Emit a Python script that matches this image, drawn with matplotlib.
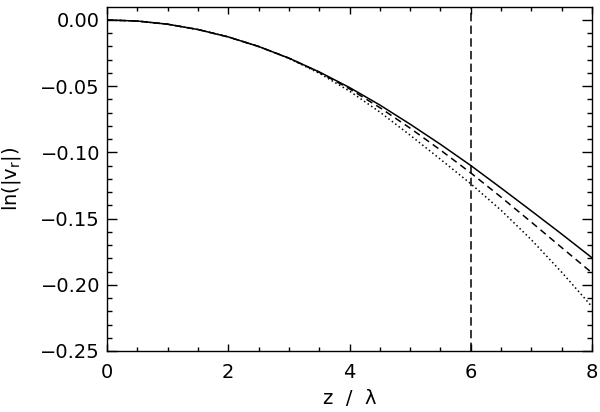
import matplotlib
matplotlib.use("Agg")
import matplotlib.pyplot as plt
from matplotlib.ticker import MultipleLocator, FuncFormatter

# values
z = [0.0, 0.5, 1.0, 1.5, 2.0, 2.5, 3.0, 3.5, 4.0, 4.5, 5.0, 5.5, 6.0, 6.5, 7.0, 7.5, 8.0]
ln_v_solid = [0.0, -0.0008, -0.0032, -0.0072, -0.0128, -0.0200, -0.0288, -0.0392,
              -0.0510, -0.0642, -0.0787, -0.0939, -0.1099, -0.1269, -0.1442, -0.1617, -0.1796]
ln_v_dashed = [0.0, -0.0008, -0.0032, -0.0072, -0.0128, -0.0200, -0.0288, -0.0395,
               -0.0520, -0.0662, -0.0817, -0.0982, -0.1155, -0.1338, -0.1527, -0.1719, -0.1910]
ln_v_dotted = [0.0, -0.0008, -0.0032, -0.0072, -0.0128, -0.0200, -0.0290, -0.0402,
               -0.0537, -0.0695, -0.0870, -0.1052, -0.1237, -0.1437, -0.1660, -0.1905, -0.2165]
z_mark = 6.0

plt.rcParams["font.family"] = ["DejaVu Sans"]

fig = plt.figure(figsize=(6.0, 4.12), dpi=100)
ax = fig.add_axes([107 / 600, 1 - 351 / 412, 485 / 600, 344 / 412])

ax.plot(z, ln_v_solid, color="black", lw=1.1, ls="-")
ax.plot(z, ln_v_dashed, color="black", lw=1.1, ls=(0, (4.5, 3)))
ax.plot(z, ln_v_dotted, color="black", lw=1.1, ls=(0, (1, 1.8)))
ax.axvline(z_mark, color="black", lw=1.1, ls=(0, (5.5, 2.8)))

ax.set_xlim(0, 8)
ax.set_ylim(-0.25, 0.0098)
ax.xaxis.set_major_locator(MultipleLocator(2))
ax.xaxis.set_minor_locator(MultipleLocator(0.5))
ax.yaxis.set_major_locator(MultipleLocator(0.05))
ax.yaxis.set_minor_locator(MultipleLocator(0.01))
ax.yaxis.set_major_formatter(FuncFormatter(lambda v, p: f"{v:.2f}".replace("-", "\u2212")))

ax.tick_params(axis="both", which="both", direction="in", top=True, right=True,
               labelsize=14, width=1)
ax.tick_params(axis="x", which="major", length=5, pad=9)
ax.tick_params(axis="x", which="minor", length=3)
ax.tick_params(axis="y", which="major", length=7.5, pad=5)
ax.tick_params(axis="y", which="minor", length=3.8)
for s in ax.spines.values():
    s.set_linewidth(1)

ax.set_xlabel("z  /  λ", fontsize=14)
ax.set_ylabel(r"ln(|v$_\mathregular{r}$|)", fontsize=14)
ax.xaxis.set_label_coords(0.5, -0.11)
ax.yaxis.set_label_coords(-0.173, 0.5)

fig.savefig("out.png", dpi=100)
